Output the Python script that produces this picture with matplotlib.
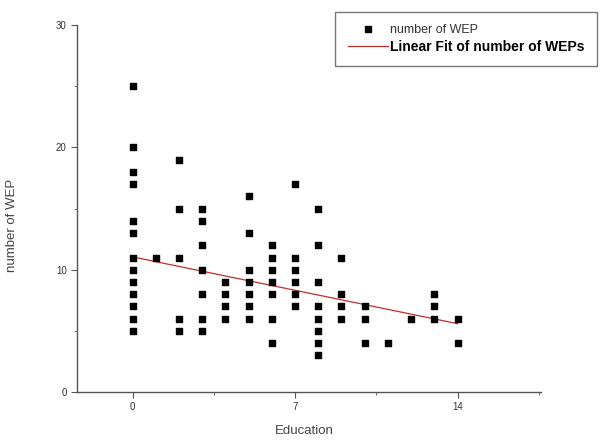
import matplotlib
matplotlib.use("Agg")
import matplotlib.pyplot as plt
from matplotlib.lines import Line2D
from matplotlib.ticker import MultipleLocator
import numpy as np

plt.rcParams['font.family'] = ['Liberation Sans', 'DejaVu Sans']

# Education level -> list of WEP counts
education = [0] * 13 + [1] + [2] * 5 + [3] * 7 + [4] * 4 + [5] * 7 + [6] * 7 \
    + [7] * 6 + [8] * 8 + [9] * 4 + [10] * 3 + [11] + [12] + [13] * 3 + [14] * 2
wep = [25, 20, 18, 17, 14, 13, 11, 10, 9, 8, 7, 6, 5,
       11,
       19, 15, 11, 6, 5,
       15, 14, 12, 10, 8, 6, 5,
       9, 8, 7, 6,
       16, 13, 10, 9, 8, 7, 6,
       12, 11, 10, 9, 8, 6, 4,
       17, 11, 10, 9, 8, 7,
       15, 12, 9, 7, 6, 5, 4, 3,
       11, 8, 7, 6,
       7, 6, 4,
       4,
       6,
       8, 7, 6,
       6, 4]

# linear fit as drawn in the reference
fit_intercept = 11.05
fit_slope = -0.39
fit_x = np.array([0, 14])

fig = plt.figure(figsize=(6.13, 4.41), dpi=100)
ax = fig.add_axes([0.1256, 0.111, 0.757, 0.832])

ax.scatter(education, wep, marker='s', s=22, color='black', zorder=3)
ax.plot(fit_x, fit_intercept + fit_slope * fit_x, color='#c0302a', lw=0.9, zorder=2)

ax.set_xlim(-2.4, 17.6)
ax.set_ylim(0, 30)
ax.xaxis.set_major_locator(MultipleLocator(7))
ax.xaxis.set_minor_locator(MultipleLocator(3.5))
ax.yaxis.set_major_locator(MultipleLocator(10))
ax.yaxis.set_minor_locator(MultipleLocator(5))

for side in ['top', 'right']:
    ax.spines[side].set_visible(False)
for side in ['left', 'bottom']:
    ax.spines[side].set_color('#555555')
    ax.spines[side].set_linewidth(1.0)

ax.tick_params(which='both', direction='out', colors='#555555', labelcolor='#333333', labelsize=7)
ax.tick_params(which='major', length=4)
ax.tick_params(which='minor', length=2.5)

ax.set_xlabel('Education', fontsize=9.5, color='#444444')
ax.set_ylabel('number of WEP', fontsize=9.5, color='#444444')
ax.xaxis.set_label_coords(0.49, -0.09)
ax.yaxis.set_label_coords(-0.127, 0.455)

handles = [Line2D([], [], marker='s', ls='none', color='black', markersize=4.5),
           Line2D([], [], color='#c0302a', lw=0.9)]
leg = fig.legend(handles, ['number of WEP', 'Linear Fit of number of WEPs'],
                 loc='upper left', bbox_to_anchor=(0.5465, 0.973), borderaxespad=0,
                 fontsize=9, frameon=True, fancybox=False, edgecolor='#555555',
                 borderpad=1.0, handlelength=3.2, handletextpad=0.2, labelspacing=0.25)
leg.get_frame().set_linewidth(1.0)
leg.get_texts()[0].set_color('#333333')
leg.get_texts()[1].set_fontweight('bold')
leg.get_texts()[1].set_fontsize(10)

fig.savefig('out.png', dpi=100)
